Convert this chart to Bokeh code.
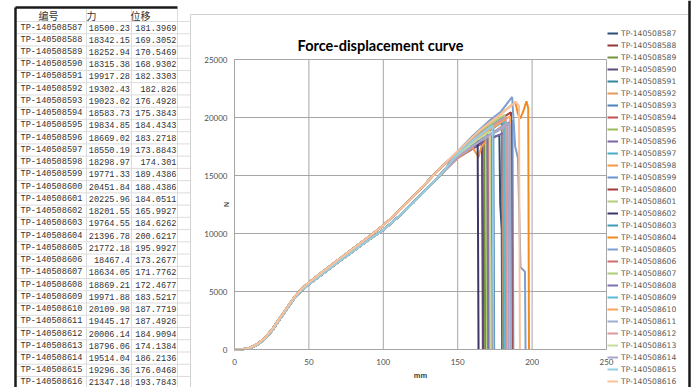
from bokeh.plotting import figure
from bokeh.models import Range1d, FixedTicker, Legend, LegendItem, Label, LinearAxis
from bokeh.embed import file_html
from bokeh.resources import INLINE
from bokeh.core.properties import value

# ---------------- data ----------------
series_ids = ["TP-1405085%02d" % k for k in range(87, 100)] + ["TP-1405086%02d" % k for k in range(0, 17)]
max_force = [18500.23, 18342.15, 18252.94, 18315.38, 19917.28, 19302.43, 19023.02, 18583.73,
             19834.85, 18669.02, 18550.19, 18298.97, 19771.33, 20451.84, 20225.96, 18201.55,
             19764.55, 21396.78, 21772.18, 18467.4, 18634.05, 18869.21, 19971.88, 20109.98,
             19445.17, 20006.14, 18796.06, 19514.04, 19296.36, 21347.18]
break_disp = [181.3969, 169.3052, 170.5469, 168.9302, 182.3303, 182.826, 176.4928, 175.3843,
              184.4343, 183.2718, 173.8843, 174.301, 189.4386, 188.4386, 184.0511, 165.9927,
              184.6262, 200.6217, 195.9927, 173.2677, 171.7762, 172.4677, 183.5217, 187.7719,
              187.4926, 184.9094, 174.1384, 186.2136, 176.0468, 193.7843]

# shared loading path (upper / lower edge of the band)
base_mm = [0, 5, 10, 15, 20, 25, 30, 35, 40, 45, 50, 60, 70, 80, 90, 100, 110, 120, 130, 140]
base_hi = [0, 20, 140, 440, 940, 1680, 2620, 3560, 4480, 5220, 5780, 6780, 7760, 8720, 9700,
           10700, 11900, 13180, 14520, 15850]
base_lo = [0, 15, 110, 380, 860, 1580, 2520, 3460, 4380, 5080, 5620, 6600, 7560, 8500, 9440,
           10300, 11420, 12650, 13950, 15280]
base_pick = ["lo", "lo", "lo", "lo", "hi", "lo", "hi", "lo", "hi", "lo", "lo", "lo", "lo", "hi", "hi",
             "lo", "hi", "hi", "hi", "lo", "lo", "lo", "hi", "hi", "lo", "hi", "lo", "lo", "lo", "hi"]

# tail of each curve (after 140 mm): rise to peak, then break
tail_mm = [
    [150, 160, 170, 178.0, 178.6, 179.6, 179.9],
    [150, 158, 166.7, 167.3],
    [150, 160, 167.9, 168.5],
    [150, 158, 166.3, 166.9],
    [150, 165, 179.7, 180.3],
    [150, 165, 175, 180.2, 180.8],
    [150, 163, 173.9, 174.5],
    [150, 162, 172.8, 173.4],
    [150, 165, 175, 181.8, 182.4],
    [150, 160, 170, 180.7, 181.3],
    [150, 162, 171.3, 171.9],
    [150, 160, 164, 166, 171.7, 172.3],
    [150, 165, 178, 186.8, 187.4],
    [150, 165, 178, 185.8, 186.4],
    [150, 165, 181.5, 182.1],
    [150, 158, 163.4, 164.0],
    [150, 165, 175, 182.0, 182.6],
    [150, 165, 180, 188.7, 190.5, 192, 194, 196.2, 197.4, 197.9],
    [150, 160, 172, 179, 186.6, 188.6, 190.5, 192.2, 195.2, 195.6],
    [150, 160, 170.7, 171.3],
    [150, 160, 169.2, 169.8],
    [150, 160, 169.9, 170.5],
    [150, 165, 180.9, 181.5],
    [150, 165, 178, 185.2, 185.8],
    [150, 162, 175, 184.9, 185.5],
    [150, 165, 182.3, 182.9],
    [150, 160, 171.5, 172.1],
    [150, 162, 175, 183.6, 184.2],
    [150, 162, 173.4, 174.0],
    [150, 165, 180, 189, 191.2, 191.8],
]
tail_n = [
    [16600, 17500, 18100, 18500, 12500, 10300, 0],
    [16800, 17700, 18342, 0],
    [16700, 17600, 18253, 0],
    [16800, 17700, 18315, 0],
    [17000, 18700, 19917, 0],
    [16700, 18000, 18800, 19302, 0],
    [16900, 18300, 19023, 0],
    [16600, 17700, 18584, 0],
    [17000, 18300, 19200, 19835, 0],
    [16500, 17300, 18000, 18669, 0],
    [16700, 17800, 18550, 0],
    [16500, 17400, 16600, 17500, 18299, 0],
    [16800, 18000, 19000, 19771, 0],
    [17000, 18700, 19800, 20452, 0],
    [17000, 18800, 20226, 0],
    [16900, 17700, 18202, 0],
    [16900, 18400, 19200, 19765, 0],
    [17000, 18900, 20400, 21340, 20300, 19900, 20500, 21397, 20800, 0],
    [17100, 18400, 19800, 20500, 21772, 17500, 16500, 7100, 6700, 0],
    [16600, 17500, 18467, 0],
    [16800, 17800, 18634, 0],
    [16900, 17900, 18869, 0],
    [17000, 18600, 19972, 0],
    [16900, 18400, 19500, 20110, 0],
    [16600, 17700, 18700, 19445, 0],
    [16900, 18600, 20006, 0],
    [16800, 17800, 18796, 0],
    [16600, 17700, 18800, 19514, 0],
    [16900, 18200, 19296, 0],
    [17100, 18900, 20400, 21347, 21000, 0],
]
colors = ["#2C4D75", "#953735", "#77933C", "#604A7B", "#31859C", "#E39B5B", "#4F81BD", "#C0504D",
          "#9BBB59", "#8064A2", "#4BACC6", "#F79646", "#6A93C9", "#A33B38", "#B7CC7E", "#3D3566",
          "#3E9AB5", "#F28A1E", "#7E9FD0", "#D06C6A", "#AECB7A", "#7F70B0", "#5BBAD5", "#F9A35A",
          "#9BAED0", "#D79A9A", "#C7DB9E", "#ADA4C8", "#93CFE0", "#FAC29A"]

x_ticks = [0, 50, 100, 150, 200, 250]
y_ticks = [0, 5000, 10000, 15000, 20000, 25000]
headers = ["编号", "力", "位移"]

# ---------------- layout geometry (page pixels) ----------------
W, H = 692, 387
FL, FR, FT, FB = 234, 606, 59, 349          # plot-area edges in page pixels
XMAX, YMAX = 250.0, 25000.0


def xd(px):  # page pixel -> data x
    return (px - FL) * XMAX / (FR - FL)


def yd(py):  # page pixel -> data y
    return (FB - py) * YMAX / (FB - FT)


p = figure(width=W, height=H, x_range=Range1d(xd(0), xd(W)), y_range=Range1d(yd(H), yd(0)),
           x_axis_type=None, y_axis_type=None, output_backend="svg", toolbar_location=None,
           min_border=0, outline_line_color=None)
p.grid.visible = False

grid_col = "#a6a6a6"
# plot-area gridlines (drawn from the tick arrays)
p.segment(x0=x_ticks, x1=x_ticks, y0=[0] * len(x_ticks), y1=[YMAX] * len(x_ticks),
          line_color=grid_col, line_width=1)
p.segment(x0=[0] * len(y_ticks), x1=[XMAX] * len(y_ticks), y0=y_ticks, y1=y_ticks,
          line_color=grid_col, line_width=1)

xaxis = LinearAxis(fixed_location=0, bounds=(0, XMAX), ticker=FixedTicker(ticks=x_ticks))
yaxis = LinearAxis(fixed_location=0, bounds=(0, YMAX), ticker=FixedTicker(ticks=y_ticks))
for ax in (xaxis, yaxis):
    ax.axis_line_color = grid_col
    ax.major_tick_line_color = None
    ax.minor_tick_line_color = None
    ax.major_tick_out = 0
    ax.major_tick_in = 0
    ax.major_label_text_font = "Lato"
    ax.major_label_text_font_size = "8px"
    ax.major_label_text_color = "#4d4d4d"
xaxis.major_label_standoff = 9
yaxis.major_label_standoff = 7
p.add_layout(xaxis, "below")
p.add_layout(yaxis, "left")

# ---------------- curves ----------------
n = len(series_ids)
items = []
for i in range(n):
    base_n = base_hi if base_pick[i] == "hi" else base_lo
    r = p.line(base_mm + tail_mm[i], base_n + tail_n[i], line_color=colors[i], line_width=2)
    items.append(LegendItem(label=series_ids[i], renderers=[r]))

legend = Legend(items=items, location=(607, 0), glyph_width=11, glyph_height=12,
                label_height=12, spacing=0, padding=0, margin=0, label_standoff=3,
                border_line_color=None, background_fill_alpha=0,
                label_text_font="DejaVu Sans", label_text_font_size="7.6px",
                label_text_color="#595959")
p.add_layout(legend)

p.add_layout(Label(x=xd(380), y=yd(45), text="Force-displacement curve", text_align="center",
                   text_baseline="middle", text_font="Lato", text_font_style="bold",
                   text_font_size="14.5px", text_color="#000000"))
p.add_layout(Label(x=xd(226), y=yd(204), text="N", angle=1.5708, text_align="center",
                   text_baseline="middle", text_font="Liberation Sans", text_font_style="bold",
                   text_font_size="7px", text_color="#404040"))
p.add_layout(Label(x=xd(420), y=yd(375), text="mm", text_align="center", text_baseline="middle",
                   text_font="Liberation Sans", text_font_style="bold", text_font_size="7.5px",
                   text_color="#404040"))

# ---------------- spreadsheet table (left) ----------------
row_py = [27 + 12.24 * i for i in range(n)]
grid_py = [21 + 12.24 * i for i in range(n + 1)]
p.segment(x0=[xd(15)] * len(grid_py), x1=[xd(190)] * len(grid_py),
          y0=[yd(v) for v in grid_py], y1=[yd(v) for v in grid_py], line_color="#dcdcdc", line_width=1)
p.segment(x0=[xd(v) for v in (86, 131, 177)], x1=[xd(v) for v in (86, 131, 177)],
          y0=[yd(8)] * 3, y1=[yd(H)] * 3, line_color="#dcdcdc", line_width=1)
# chart-object border
p.segment(x0=[xd(190), xd(190)], x1=[xd(190), xd(689)], y0=[yd(14), yd(14)], y1=[yd(H), yd(14)],
          line_color="#d0d0d0", line_width=1)
# dark screenshot frame
p.segment(x0=[xd(15), xd(15), xd(689)], x1=[xd(15), xd(177), xd(689)],
          y0=[yd(7), yd(7), yd(0)], y1=[yd(H), yd(7), yd(H)], line_color="#1a1a1a", line_width=2.5)

txt_col = "#333333"
p.text(x=[xd(48), xd(91), xd(140)], y=[yd(15)] * 3, text=headers, text_font=value("Noto Sans CJK SC"),
       text_font_size="10px", text_align="center", text_baseline="middle", text_color=txt_col)
row_y = [yd(v) for v in row_py]
p.text(x=[xd(20)] * n, y=row_y, text=series_ids, text_font=value("Liberation Mono"),
       text_font_size="8.6px", text_align="left", text_baseline="middle", text_color=txt_col)
p.text(x=[xd(129.5)] * n, y=row_y, text=[str(v) for v in max_force], text_font=value("Liberation Mono"),
       text_font_size="8.6px", text_align="right", text_baseline="middle", text_color=txt_col)
p.text(x=[xd(176)] * n, y=row_y, text=[str(v) for v in break_disp], text_font=value("Liberation Mono"),
       text_font_size="8.6px", text_align="right", text_baseline="middle", text_color=txt_col)

open("out.html", "w").write(file_html(p, INLINE))
